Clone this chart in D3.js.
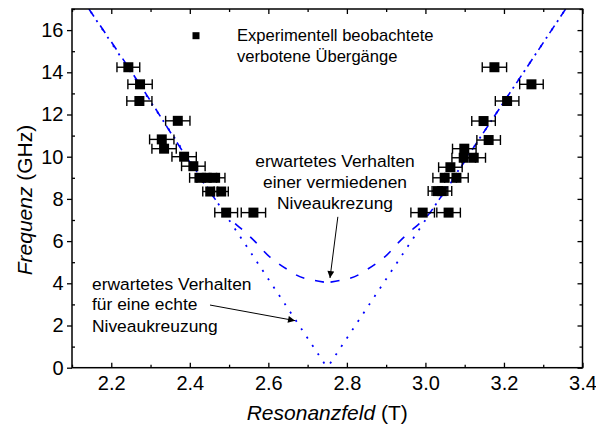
<!DOCTYPE html>
<html>
<head>
<meta charset="utf-8">
<script src="https://cdn.jsdelivr.net/npm/d3@7"></script>
<style>
  body { margin: 0; background: #fff; }
  svg text { font-family: "Liberation Sans", Arial, Helvetica, sans-serif; fill: #000; }
</style>
</head>
<body>
<svg id="chart" width="596" height="427"></svg>
<script>
// Observed forbidden transitions: resonance field (T), frequency (GHz), field uncertainty (T)
const obsField = [2.2435, 2.2733, 2.2716, 2.3694, 2.3286, 2.3345, 2.3855, 2.409,
                  2.4245, 2.443, 2.4645, 2.452, 2.480, 2.4926, 2.562,
                  3.1757, 3.270, 3.208, 3.148, 3.161, 3.099, 3.0975, 3.123,
                  3.0636, 3.049, 3.079, 3.032, 3.042, 2.993, 3.059];
const obsFreq  = [14.24, 13.43, 12.64, 11.70, 10.82, 10.38, 10.00, 9.55,
                  9.00, 9.00, 9.00, 8.35, 8.35, 7.35, 7.35,
                  14.24, 13.43, 12.64, 11.69, 10.79, 10.38, 9.95, 9.95,
                  9.50, 9.00, 9.00, 8.37, 8.37, 7.35, 7.35];
const obsErr   = [0.029, 0.031, 0.032, 0.031, 0.031, 0.031, 0.031, 0.030,
                  0.025, 0.025, 0.025, 0.019, 0.018, 0.029, 0.031,
                  0.031, 0.030, 0.030, 0.030, 0.030, 0.030, 0.030, 0.030,
                  0.030, 0.030, 0.030, 0.025, 0.025, 0.030, 0.030];

// Expected behaviour for an avoided level crossing (dashed)
const avoidedField = [2.143, 2.2904, 2.375, 2.464, 2.505, 2.530, 2.565, 2.605, 2.654, 2.700, 2.750,
                      2.800, 2.846, 2.895, 2.935, 2.970, 2.995, 3.036, 3.125, 3.210, 3.357];
const avoidedFreq  = [17.0, 12.92, 10.45, 8.0, 7.0, 6.6, 6.0, 5.23, 4.6, 4.2, 4.03,
                      4.2, 4.6, 5.23, 6.0, 6.6, 7.0, 8.0, 10.5, 12.88, 17.0];

// Expected behaviour for a true level crossing (dotted)
const crossingField = [2.143, 2.750, 3.357];
const crossingFreq  = [17.0, 0.0, 17.0];

// Axis ticks
const xTicks = [2.2, 2.4, 2.6, 2.8, 3.0, 3.2, 3.4];
const xMinor = [2.1, 2.3, 2.5, 2.7, 2.9, 3.1, 3.3];
const yTicks = [0, 2, 4, 6, 8, 10, 12, 14, 16];
const yMinor = [1, 3, 5, 7, 9, 11, 13, 15, 17];

const svg = d3.select("#chart");
const plotL = 72, plotR = 582.5, plotT = 9, plotB = 367.7;

const x = d3.scaleLinear().domain([2.1, 3.4]).range([plotL, plotR]);
const y = d3.scaleLinear().domain([0, 17]).range([plotB, plotT]);

const blue = "#0000ff";

const defs = svg.append("defs");
defs.append("clipPath").attr("id", "plotClip")
  .append("rect").attr("x", plotL).attr("y", plotT)
  .attr("width", plotR - plotL).attr("height", plotB - plotT);

defs.append("marker").attr("id", "arrow")
  .attr("viewBox", "0 0 10 10").attr("refX", 10).attr("refY", 5)
  .attr("markerWidth", 9).attr("markerHeight", 7).attr("markerUnits", "userSpaceOnUse")
  .attr("orient", "auto")
  .append("path").attr("d", "M0,0 L10,5 L0,10 Z").attr("fill", "#000");

const curves = svg.append("g").attr("clip-path", "url(#plotClip)");

const straight = d3.line().x(d => x(d[0])).y(d => y(d[1]));
const smooth = d3.line().x(d => x(d[0])).y(d => y(d[1])).curve(d3.curveMonotoneY);

// each branch is stroked from the top of the plot down to its minimum,
// so the dash and dot patterns interleave where the two curves coincide
function branches(fields, freqs) {
  const pts = fields.map((b, i) => [b, freqs[i]]);
  const iMin = d3.minIndex(freqs);
  return [pts.slice(0, iMin + 1), pts.slice(iMin).reverse()];
}

branches(crossingField, crossingFreq).forEach(br => {
  curves.append("path").datum(br)
    .attr("d", straight)
    .attr("fill", "none").attr("stroke", blue).attr("stroke-width", 1.8)
    .attr("stroke-dasharray", "2,8").attr("stroke-dashoffset", 6.5);
});

branches(avoidedField, avoidedFreq).forEach(br => {
  curves.append("path").datum(br)
    .attr("d", smooth)
    .attr("fill", "none").attr("stroke", blue).attr("stroke-width", 1.6)
    .attr("stroke-dasharray", "9,11");
});

// data points with horizontal error bars
const pts = obsField.map((b, i) => ({ b, f: obsFreq[i], e: obsErr[i] }));
const pg = svg.append("g");
const eb = pg.selectAll("g.eb").data(pts).join("g").attr("class", "eb")
  .attr("stroke", "#000").attr("stroke-width", 1.4);
eb.append("line")
  .attr("x1", d => x(d.b - d.e)).attr("x2", d => x(d.b + d.e))
  .attr("y1", d => y(d.f)).attr("y2", d => y(d.f));
eb.append("line")
  .attr("x1", d => x(d.b - d.e)).attr("x2", d => x(d.b - d.e))
  .attr("y1", d => y(d.f) - 5).attr("y2", d => y(d.f) + 5);
eb.append("line")
  .attr("x1", d => x(d.b + d.e)).attr("x2", d => x(d.b + d.e))
  .attr("y1", d => y(d.f) - 5).attr("y2", d => y(d.f) + 5);

const sq = 10;
pg.selectAll("rect.pt").data(pts).join("rect").attr("class", "pt")
  .attr("x", d => x(d.b) - sq / 2).attr("y", d => y(d.f) - sq / 2)
  .attr("width", sq).attr("height", sq).attr("fill", "#000");

// axes
const tickFont = 20;
svg.append("g").attr("transform", `translate(0,${plotB})`)
  .call(d3.axisBottom(x).tickValues(xTicks).tickFormat(d3.format(".1f"))
    .tickSize(-5).tickPadding(8));
svg.append("g").attr("transform", `translate(0,${plotB})`)
  .call(d3.axisBottom(x).tickValues(xMinor).tickFormat("").tickSize(-3));
svg.append("g").attr("transform", `translate(0,${plotT})`)
  .call(d3.axisTop(x).tickValues(xTicks).tickFormat("").tickSize(-5));
svg.append("g").attr("transform", `translate(0,${plotT})`)
  .call(d3.axisTop(x).tickValues(xMinor).tickFormat("").tickSize(-3));

svg.append("g").attr("transform", `translate(${plotL},0)`)
  .call(d3.axisLeft(y).tickValues(yTicks).tickFormat(d3.format("d"))
    .tickSize(5).tickPadding(3.5));
svg.append("g").attr("transform", `translate(${plotL},0)`)
  .call(d3.axisLeft(y).tickValues(yMinor).tickFormat("").tickSize(-3));
svg.append("g").attr("transform", `translate(${plotR},0)`)
  .call(d3.axisRight(y).tickValues(yTicks).tickFormat("").tickSize(-5));
svg.append("g").attr("transform", `translate(${plotR},0)`)
  .call(d3.axisRight(y).tickValues(yMinor).tickFormat("").tickSize(-3));

svg.selectAll(".domain").remove();
svg.selectAll(".tick line").attr("stroke", "#000").attr("stroke-width", 1.3);
svg.selectAll(".tick text").attr("font-size", tickFont)
  .attr("font-family", "Liberation Sans, Arial, sans-serif").attr("fill", "#000");

svg.append("rect").attr("x", plotL).attr("y", plotT)
  .attr("width", plotR - plotL).attr("height", plotB - plotT)
  .attr("fill", "none").attr("stroke", "#000").attr("stroke-width", 1.5);

// axis titles
const xt = svg.append("text").attr("x", (plotL + plotR) / 2).attr("y", 420)
  .attr("text-anchor", "middle").attr("font-size", 21);
xt.append("tspan").attr("font-style", "italic").text("Resonanzfeld");
xt.append("tspan").text(" (T)");

const yt = svg.append("text").attr("transform", "translate(32,200) rotate(-90)")
  .attr("text-anchor", "middle").attr("font-size", 21);
yt.append("tspan").attr("font-style", "italic").text("Frequenz");
yt.append("tspan").text(" (GHz)");

// legend
svg.append("rect").attr("x", 192.5).attr("y", 32.2).attr("width", 7).attr("height", 7).attr("fill", "#000");
svg.append("text").attr("x", 237).attr("y", 41).attr("font-size", 16.6).text("Experimentell beobachtete");
svg.append("text").attr("x", 237).attr("y", 61.5).attr("font-size", 16.6).text("verbotene Übergänge");

// annotation: avoided crossing
const a1 = svg.append("text").attr("text-anchor", "middle").attr("font-size", 17.4);
[["erwartetes Verhalten", 166.7], ["einer vermiedenen", 187.7], ["Niveaukrezung", 208.5]]
  .forEach(([t, yy]) => a1.append("tspan").attr("x", 335).attr("y", yy).text(t));
svg.append("line")
  .attr("x1", x(2.777)).attr("y1", y(7.15)).attr("x2", x(2.757)).attr("y2", y(4.25))
  .attr("stroke", "#000").attr("stroke-width", 1).attr("marker-end", "url(#arrow)");

// annotation: true crossing
const a2 = svg.append("text").attr("font-size", 17.4);
[["erwartetes Verhalten", 289.5], ["für eine echte", 310.3], ["Niveaukreuzung", 331.5]]
  .forEach(([t, yy]) => a2.append("tspan").attr("x", 92).attr("y", yy).text(t));
svg.append("line")
  .attr("x1", x(2.4514)).attr("y1", y(2.97)).attr("x2", x(2.668)).attr("y2", y(2.23))
  .attr("stroke", "#000").attr("stroke-width", 1).attr("marker-end", "url(#arrow)");
</script>
</body>
</html>
